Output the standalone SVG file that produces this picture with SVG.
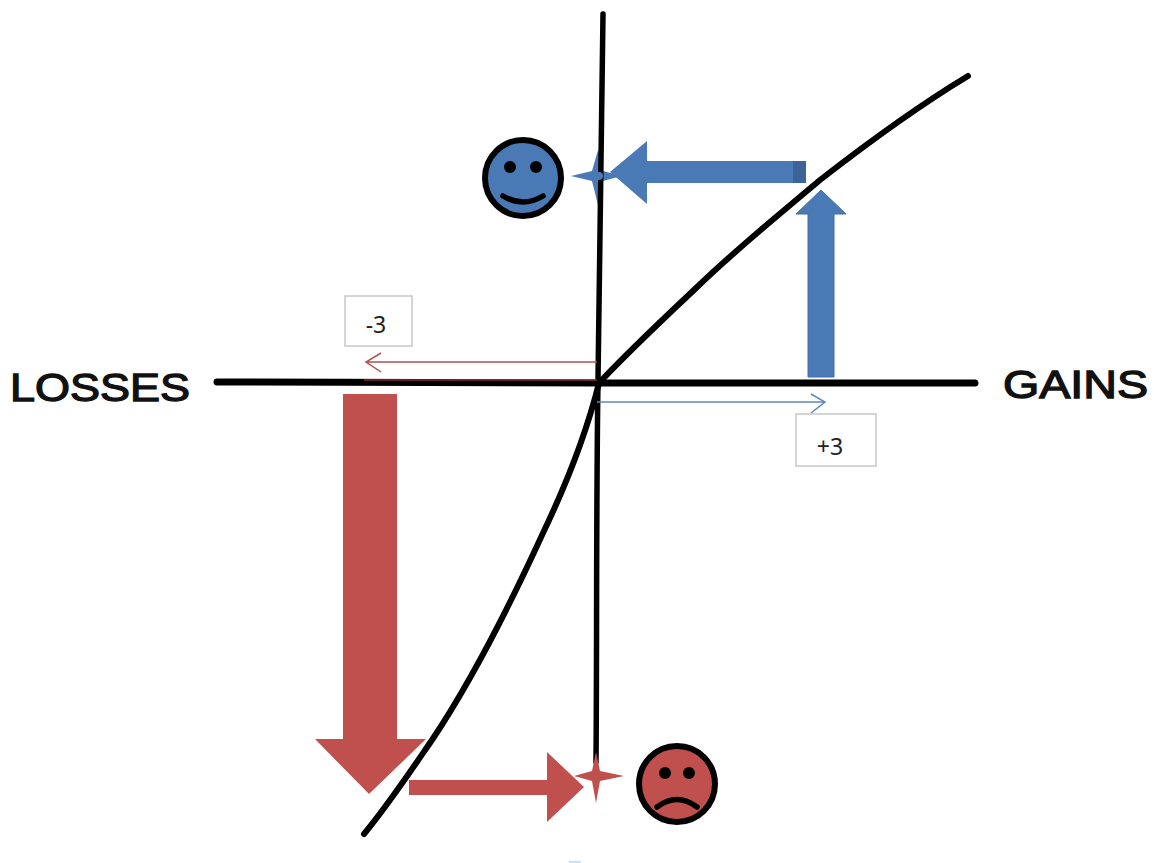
<svg xmlns="http://www.w3.org/2000/svg" width="1154" height="863" viewBox="0 0 1154 863">
<style>
.ax{fill:none;stroke:#000;stroke-linecap:round}
.big{font-family:"Liberation Sans",Arial,sans-serif;font-size:38px;fill:#111;stroke:#111;stroke-width:1.3}
.val{font-family:"Noto Sans","Liberation Sans",sans-serif;font-size:23px;fill:#222;text-anchor:middle}
.box{fill:#fff;stroke:#c8c8c8;stroke-width:1.5}
.b{fill:#4a7ab5}.r{fill:#c0504d}
.face{stroke:#000;stroke-width:6}
.fe{fill:#000}
.m{fill:none;stroke:#000;stroke-width:5.5;stroke-linecap:round}
</style>
<rect width="1154" height="863" fill="#fff"/>
<g id="star-blue"><path class="b" d="M571 176L592 171L598 150L603 171L622 176L603 181L598 205L592 181Z"/></g>
<g id="connectors">
<path class="ax" stroke-width="5.5" d="M603 14C602 130 600 250 598 380C596 520 597 650 596 762"/>
<path class="ax" stroke-width="7" d="M217 382L600 383L975 383"/>
<path class="ax" stroke-width="6" d="M968 76C915 108 865 145 820 180C775 218 735 250 694 290C660 322 630 350 599 383C586 435 565 487 543 533C510 605 472 680 432 740C410 772 388 805 364 834"/>
<path d="M364 380H597" fill="none" stroke="#8c2f2c" stroke-width="2" opacity=".7"/>
<path d="M597 362H366M381 353L366 362L381 372" fill="none" stroke="#b0524f" stroke-width="1.5"/>
<path d="M597 402H825M811 394L825 402L811 413" fill="none" stroke="#5f88b8" stroke-width="1.5"/>
<path class="b" d="M808 377H834V214H846L821 190L796 214H808Z" stroke="#3f6fa8"/>
<path class="b" d="M806 161V183H647V204L610 172L647 141V161Z"/>
<rect x="793" y="161" width="13" height="22" fill="#3c6496"/>
<path class="r" d="M343 394H397V739H426L369 794L315 739H343Z"/>
<path class="r" d="M409 780H547V752L584 787L547 822V795H409Z"/>
</g>
<circle cx="599" cy="176" r="4" fill="#4a7ab5"/>
<g id="star-red"><path class="r" d="M574 776L592 771L596 752L600 771L624 776L600 781L596 803L592 781Z"/></g>
<g id="happy">
<circle class="b face" cx="523" cy="178" r="38"/>
<circle class="fe" cx="510" cy="167" r="6"/><circle class="fe" cx="536" cy="167" r="6"/>
<path class="m" d="M503 196Q523 208 543 196"/>
</g>
<g id="sad">
<circle class="r face" cx="677" cy="784" r="38"/>
<circle class="fe" cx="665" cy="773" r="6"/><circle class="fe" cx="689" cy="773" r="6"/>
<path class="m" d="M657 807Q677 792 697 807"/>
</g>
<g id="losses"><text class="big" x="10" y="401" textLength="180" lengthAdjust="spacingAndGlyphs">LOSSES</text></g>
<g id="gains"><text class="big" x="1003" y="398" textLength="145" lengthAdjust="spacingAndGlyphs">GAINS</text></g>
<g id="minus3"><rect class="box" x="345" y="296" width="67" height="50"/><text class="val" x="376" y="333">-3</text></g>
<g id="plus3"><rect class="box" x="796" y="414" width="80" height="52"/><text class="val" x="830" y="455">+3</text></g>
<g id="fragment"><rect x="569" y="861" width="12" height="2" fill="#cfe0ee"/></g>
</svg>
